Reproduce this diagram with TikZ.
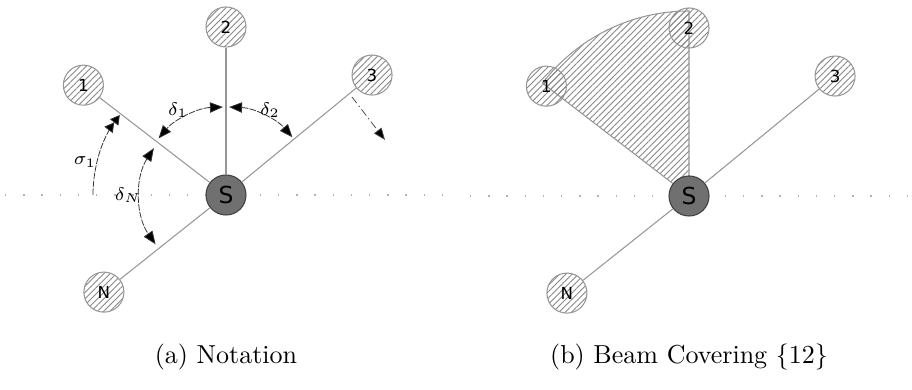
\documentclass[tikz,border=0pt]{standalone}
\usepackage{fontspec}
\usepackage{tikz}
\usetikzlibrary{arrows.meta, patterns.meta, calc}
\newfontfamily\labelfont{DejaVu Sans}
\definecolor{stationgray}{RGB}{112,112,112}
\definecolor{edgegray}{RGB}{150,150,150}
\definecolor{hatchgray}{RGB}{135,135,135}
\tikzset{
    peer/.style={circle, draw=edgegray, line width=0.4pt, minimum size=15.4pt, inner sep=0pt,
                 pattern={Lines[angle=45,distance=1.7pt,line width=0.35pt]}, pattern color=hatchgray,
                 font=\labelfont\fontsize{6.4}{7}\selectfont},
    station/.style={circle, draw=black!75, fill=stationgray, line width=0.4pt, minimum size=15.4pt,
                    inner sep=0pt, font=\labelfont\fontsize{9}{10}\selectfont},
    link/.style={edgegray, line width=0.4pt},
    horizon/.style={gray!60, line width=0.5pt, dash pattern=on 0.5pt off 6.5pt},
    sweep/.style={black!80, line width=0.3pt, dash pattern=on 2.5pt off 0.5pt,
                  {Triangle[length=5pt,width=4pt,fill=black]}-{Triangle[length=5pt,width=4pt,fill=black]}},
    greek/.style={font=\fontsize{6.8}{7}\selectfont},
    beam/.style={draw=edgegray, line width=0.4pt,
                 pattern={Lines[angle=45,distance=1.7pt,line width=0.35pt]}, pattern color=hatchgray},
    caption/.style={font=\normalsize}
}

\begin{document}
\begin{tikzpicture}[x=0.3846pt, y=0.3846pt]
    \useasboundingbox (0,0) rectangle (912,390);

    % Horizon
    \draw[horizon] (5,195) -- (455,195);
    \draw[horizon] (470,194) -- (908,194);

    % (a) Notation
    \node[station] (Sa) at (226,195) {S};
    \node[peer] (a1) at ($(Sa)+(142.4:180)$) {1};
    \node[peer] (a2) at ($(Sa)+(90:168)$) {2};
    \node[peer] (a3) at ($(Sa)+(39.4:189)$) {3};
    \node[peer] (aN) at ($(Sa)+(218.5:156)$) {N};
    \draw[link] (Sa) -- (a1);
    \draw[link] (Sa) -- (a2);
    \draw[link] (Sa) -- (a3);
    \draw[link] (Sa) -- (aN);

    % Angles
    \draw[sweep] ($(Sa)+(92:88)$) arc[start angle=92, end angle=140, radius=88];
    \draw[sweep] ($(Sa)+(88:88)$) arc[start angle=88, end angle=41, radius=88];
    \draw[sweep] ($(Sa)+(147:86)$) arc[start angle=147, end angle=215, radius=86];
    \draw[black!80, line width=0.3pt, dash pattern=on 2.5pt off 0.5pt,
          -{Triangle[length=3.6pt,width=4pt,fill=black] Triangle[length=3.6pt,width=4pt,fill=black]}]
        ($(Sa)+(180:133)$) arc[start angle=180, end angle=143, radius=133];
    \node[greek] (d1) at ($(Sa)+(-48,85)$) {$\delta_1$};
    \node[greek] (d2) at ($(Sa)+(44,85)$) {$\delta_2$};
    \node[greek] (dN) at ($(Sa)+(-98,0)$) {$\delta_N$};
    \node[greek] (s1) at ($(Sa)+(-141,33)$) {$\sigma_1$};

    % Rotation
    \coordinate (r0) at ($(Sa)+(126,98)$);
    \coordinate (r1) at ($(Sa)+(159,55)$);
    \draw[black!70, line width=0.3pt, dash pattern=on 3pt off 1.2pt on 0.6pt off 1.2pt,
          -{Triangle[length=4.6pt,width=3.6pt,fill=black]}] (r0) -- (r1);

    % (b) Beam Covering
    \coordinate (Sb0) at (689,194);
    \filldraw[beam] (Sb0) -- ++(142.4:185) arc[start angle=142.4, end angle=90, radius=185] -- cycle;
    \node[station] (Sb) at (Sb0) {S};
    \node[peer] (b1) at ($(Sb)+(142.4:180)$) {1};
    \node[peer] (b2) at ($(Sb)+(90:168)$) {2};
    \node[peer] (b3) at ($(Sb)+(39.4:189)$) {3};
    \node[peer] (bN) at ($(Sb)+(218.5:156)$) {N};
    \draw[link] (Sb) -- (b3);
    \draw[link] (Sb) -- (bN);

    % Captions
    \node[caption] (capa) at (226,33) {(a) Notation};
    \node[caption] (capb) at (689,33) {(b) Beam Covering \{12\}};
\end{tikzpicture}
\end{document}
